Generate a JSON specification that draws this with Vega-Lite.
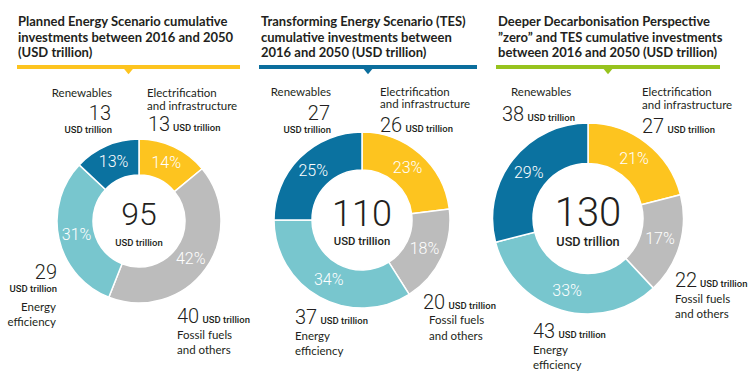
{
  "$schema": "https://vega.github.io/schema/vega-lite/v6.json",
  "padding": {"left": 0, "top": 16, "right": 0, "bottom": 0},
  "background": "white",
  "config": {"view": {"stroke": null}, "concat": {"spacing": 0}},
  "data": {"values": [
    {"scenario": "PES", "category": "Elec", "k": 1, "pct": 0.14, "usd": 13, "name": "Electrification\nand infrastructure"},
    {"scenario": "PES", "category": "Fossil", "k": 2, "pct": 0.42, "usd": 40, "name": "Fossil fuels\nand others"},
    {"scenario": "PES", "category": "Eff", "k": 3, "pct": 0.31, "usd": 29, "name": "Energy\nefficiency"},
    {"scenario": "PES", "category": "Ren", "k": 4, "pct": 0.13, "usd": 13, "name": "Renewables"},
    {"scenario": "TES", "category": "Elec", "k": 1, "pct": 0.23, "usd": 26, "name": "Electrification\nand infrastructure"},
    {"scenario": "TES", "category": "Fossil", "k": 2, "pct": 0.18, "usd": 20, "name": "Fossil fuels\nand others"},
    {"scenario": "TES", "category": "Eff", "k": 3, "pct": 0.34, "usd": 37, "name": "Energy\nefficiency"},
    {"scenario": "TES", "category": "Ren", "k": 4, "pct": 0.25, "usd": 27, "name": "Renewables"},
    {"scenario": "DDP", "category": "Elec", "k": 1, "pct": 0.21, "usd": 27, "name": "Electrification\nand infrastructure"},
    {"scenario": "DDP", "category": "Fossil", "k": 2, "pct": 0.17, "usd": 22, "name": "Fossil fuels\nand others"},
    {"scenario": "DDP", "category": "Eff", "k": 3, "pct": 0.33, "usd": 43, "name": "Energy\nefficiency"},
    {"scenario": "DDP", "category": "Ren", "k": 4, "pct": 0.29, "usd": 38, "name": "Renewables"}
  ]},
  "vconcat": [
    {
      "hconcat": [
        {"width": 17, "height": 4, "data": {"values": []}, "mark": "point"},
        {
          "width": 223, "height": 4,
          "view": {"fill": "#FDC41F", "stroke": null},
          "title": {"text": ["Planned Energy Scenario cumulative", "investments between 2016 and 2050", "(USD trillion)"], "anchor": "start", "frame": "group", "font": "Lato", "fontSize": 13, "fontWeight": "bold", "lineHeight": 15.5, "color": "#231f20", "offset": 5, "dx": 1},
          "transform": [{"filter": "datum.scenario === 'PES' && datum.k === 1"}],
          "mark": {"type": "point", "shape": "M-1,0L1,0L0,1.2Z", "size": 144, "filled": true, "color": "#FDC41F", "opacity": 1, "strokeWidth": 0}
        },
        {"width": 19, "height": 4, "data": {"values": []}, "mark": "point"},
        {
          "width": 218, "height": 4,
          "view": {"fill": "#0B6E9D", "stroke": null},
          "title": {"text": ["Transforming Energy Scenario (TES)", "cumulative investments between", "2016 and 2050 (USD trillion)"], "anchor": "start", "frame": "group", "font": "Lato", "fontSize": 13, "fontWeight": "bold", "lineHeight": 15.5, "color": "#231f20", "offset": 5, "dx": 2},
          "transform": [{"filter": "datum.scenario === 'TES' && datum.k === 1"}],
          "mark": {"type": "point", "shape": "M-1,0L1,0L0,1.2Z", "size": 144, "filled": true, "color": "#0B6E9D", "opacity": 1, "strokeWidth": 0}
        },
        {"width": 19, "height": 4, "data": {"values": []}, "mark": "point"},
        {
          "width": 224, "height": 4,
          "view": {"fill": "#97C31E", "stroke": null},
          "title": {"text": ["Deeper Decarbonisation Perspective", "”zero” and TES cumulative investments", "between 2016 and 2050 (USD trillion)"], "anchor": "start", "frame": "group", "font": "Lato", "fontSize": 13, "fontWeight": "bold", "lineHeight": 15.5, "color": "#231f20", "offset": 5, "dx": 2},
          "transform": [{"filter": "datum.scenario === 'DDP' && datum.k === 1"}],
          "mark": {"type": "point", "shape": "M-1,0L1,0L0,1.2Z", "size": 144, "filled": true, "color": "#97C31E", "opacity": 1, "strokeWidth": 0}
        }
      ],
      "spacing": 0,
      "bounds": "flush"
    },
    {
      "hconcat": [
        {
          "width": 278, "height": 310,
          "transform": [{"filter": "datum.scenario === 'PES'"}],
          "layer": [
            {
              "encoding": {
                "theta": {"field": "pct", "type": "quantitative", "stack": true},
                "order": {"field": "k", "type": "quantitative"},
                "detail": {"field": "category", "type": "nominal"}
              },
              "layer": [
                {"mark": {"type": "arc", "outerRadius": 82, "innerRadius": 46, "stroke": "white", "strokeWidth": 1.5},
                 "encoding": {"color": {"field": "category", "type": "nominal", "legend": null, "scale": {"domain": ["Elec", "Fossil", "Eff", "Ren"], "range": ["#FDC41F", "#BCBCBC", "#78C6CE", "#0B72A0"]}}}},
                {"mark": {"type": "text", "radius": 64, "font": "Roboto", "fontWeight": 300, "fontSize": 16, "fill": "white", "align": "center", "baseline": "middle"},
                 "encoding": {"text": {"field": "pct", "type": "quantitative", "format": ".0%"}}},
                {"mark": {"type": "text", "radius": 95, "dx": 10.7, "dy": -36.8, "align": "right", "baseline": "alphabetic", "font": "Lato", "fontSize": 11.5, "fill": "#231f20", "lineBreak": "\n"},
                 "encoding": {"text": {"condition": {"test": "datum.category === 'Ren'", "field": "name", "type": "nominal"}, "value": ""}}},
                {"mark": {"type": "text", "radius": 95, "dx": 9.7, "dy": -13.8, "align": "right", "baseline": "alphabetic", "font": "Roboto", "fontWeight": 300, "fontSize": 20, "fill": "#231f20"},
                 "encoding": {"text": {"condition": {"test": "datum.category === 'Ren'", "field": "usd", "type": "quantitative"}, "value": ""}}},
                {"mark": {"type": "text", "radius": 95, "dx": 10.7, "dy": -0.8, "align": "right", "baseline": "alphabetic", "font": "Roboto", "fontWeight": 500, "fontSize": 9.5, "fill": "#231f20"},
                 "encoding": {"text": {"condition": {"test": "datum.category === 'Ren'", "value": "USD trillion"}, "value": ""}}},
                {"mark": {"type": "text", "radius": 95, "dx": -32.45, "dy": -38.04, "align": "left", "baseline": "alphabetic", "font": "Lato", "fontSize": 11.5, "lineHeight": 12.5, "fill": "#231f20", "lineBreak": "\n"},
                 "encoding": {"text": {"condition": {"test": "datum.category === 'Elec'", "field": "name", "type": "nominal"}, "value": ""}}},
                {"mark": {"type": "text", "radius": 95, "dx": -31.45, "dy": -4.04, "align": "left", "baseline": "alphabetic", "font": "Roboto", "fontWeight": 300, "fontSize": 20, "fill": "#231f20"},
                 "encoding": {"text": {"condition": {"test": "datum.category === 'Elec'", "field": "usd", "type": "quantitative"}, "value": ""}}},
                {"mark": {"type": "text", "radius": 95, "dx": -6.45, "dy": -4.04, "align": "left", "baseline": "alphabetic", "font": "Roboto", "fontWeight": 500, "fontSize": 9.5, "fill": "#231f20"},
                 "encoding": {"text": {"condition": {"test": "datum.category === 'Elec'", "value": "USD trillion"}, "value": ""}}},
                {"mark": {"type": "text", "radius": 95, "dx": -38.86, "dy": 46.16, "align": "left", "baseline": "alphabetic", "font": "Roboto", "fontWeight": 300, "fontSize": 20, "fill": "#231f20"},
                 "encoding": {"text": {"condition": {"test": "datum.category === 'Fossil'", "field": "usd", "type": "quantitative"}, "value": ""}}},
                {"mark": {"type": "text", "radius": 95, "dx": -13.36, "dy": 46.16, "align": "left", "baseline": "alphabetic", "font": "Roboto", "fontWeight": 500, "fontSize": 9.5, "fill": "#231f20"},
                 "encoding": {"text": {"condition": {"test": "datum.category === 'Fossil'", "value": "USD trillion"}, "value": ""}}},
                {"mark": {"type": "text", "radius": 95, "dx": -38.86, "dy": 62.16, "align": "left", "baseline": "alphabetic", "font": "Lato", "fontSize": 11.5, "lineHeight": 15.5, "fill": "#231f20", "lineBreak": "\n"},
                 "encoding": {"text": {"condition": {"test": "datum.category === 'Fossil'", "field": "name", "type": "nominal"}, "value": ""}}},
                {"mark": {"type": "text", "radius": 95, "dx": 10.71, "dy": 37.28, "align": "right", "baseline": "alphabetic", "font": "Roboto", "fontWeight": 300, "fontSize": 20, "fill": "#231f20"},
                 "encoding": {"text": {"condition": {"test": "datum.category === 'Eff'", "field": "usd", "type": "quantitative"}, "value": ""}}},
                {"mark": {"type": "text", "radius": 95, "dx": 10.71, "dy": 50.28, "align": "right", "baseline": "alphabetic", "font": "Roboto", "fontWeight": 500, "fontSize": 9.5, "fill": "#231f20"},
                 "encoding": {"text": {"condition": {"test": "datum.category === 'Eff'", "value": "USD trillion"}, "value": ""}}},
                {"mark": {"type": "text", "radius": 95, "dx": 9.71, "dy": 69.28, "align": "right", "baseline": "alphabetic", "font": "Lato", "fontSize": 11.5, "lineHeight": 15, "fill": "#231f20", "lineBreak": "\n"},
                 "encoding": {"text": {"condition": {"test": "datum.category === 'Eff'", "field": "name", "type": "nominal"}, "value": ""}}}
              ]
            },
            {"transform": [{"aggregate": [{"op": "sum", "field": "usd", "as": "total"}]}],
             "mark": {"type": "text", "dy": 4, "align": "center", "baseline": "alphabetic", "font": "Roboto", "fontWeight": 300, "fontSize": 32, "fill": "#231f20"},
             "encoding": {"text": {"field": "total", "type": "quantitative"}}},
            {"transform": [{"aggregate": [{"op": "sum", "field": "usd", "as": "total"}]}],
             "mark": {"type": "text", "dy": 24.5, "align": "center", "baseline": "alphabetic", "font": "Roboto", "fontWeight": 500, "fontSize": 9.5, "fill": "#231f20"},
             "encoding": {"text": {"value": "USD trillion"}}}
          ]
        },
        {
          "width": 168, "height": 308,
          "transform": [{"filter": "datum.scenario === 'TES'"}],
          "layer": [
            {
              "encoding": {
                "theta": {"field": "pct", "type": "quantitative", "stack": true},
                "order": {"field": "k", "type": "quantitative"},
                "detail": {"field": "category", "type": "nominal"}
              },
              "layer": [
                {"mark": {"type": "arc", "outerRadius": 88, "innerRadius": 50, "stroke": "white", "strokeWidth": 1.5},
                 "encoding": {"color": {"field": "category", "type": "nominal", "legend": null, "scale": {"domain": ["Elec", "Fossil", "Eff", "Ren"], "range": ["#FDC41F", "#BCBCBC", "#78C6CE", "#0B72A0"]}}}},
                {"mark": {"type": "text", "radius": 69, "font": "Roboto", "fontWeight": 300, "fontSize": 16, "fill": "white", "align": "center", "baseline": "middle"},
                 "encoding": {"text": {"field": "pct", "type": "quantitative", "format": ".0%"}}},
                {"mark": {"type": "text", "radius": 100, "dx": 39.71, "dy": -53.29, "align": "right", "baseline": "alphabetic", "font": "Lato", "fontSize": 11.5, "fill": "#231f20", "lineBreak": "\n"},
                 "encoding": {"text": {"condition": {"test": "datum.category === 'Ren'", "field": "name", "type": "nominal"}, "value": ""}}},
                {"mark": {"type": "text", "radius": 100, "dx": 38.71, "dy": -28.79, "align": "right", "baseline": "alphabetic", "font": "Roboto", "fontWeight": 300, "fontSize": 20, "fill": "#231f20"},
                 "encoding": {"text": {"condition": {"test": "datum.category === 'Ren'", "field": "usd", "type": "quantitative"}, "value": ""}}},
                {"mark": {"type": "text", "radius": 100, "dx": 39.71, "dy": -16.29, "align": "right", "baseline": "alphabetic", "font": "Roboto", "fontWeight": 500, "fontSize": 9.5, "fill": "#231f20"},
                 "encoding": {"text": {"condition": {"test": "datum.category === 'Ren'", "value": "USD trillion"}, "value": ""}}},
                {"mark": {"type": "text", "radius": 100, "dx": -48.13, "dy": -48.99, "align": "left", "baseline": "alphabetic", "font": "Lato", "fontSize": 11.5, "lineHeight": 12.5, "fill": "#231f20", "lineBreak": "\n"},
                 "encoding": {"text": {"condition": {"test": "datum.category === 'Elec'", "field": "name", "type": "nominal"}, "value": ""}}},
                {"mark": {"type": "text", "radius": 100, "dx": -48.13, "dy": -12.99, "align": "left", "baseline": "alphabetic", "font": "Roboto", "fontWeight": 300, "fontSize": 20, "fill": "#231f20"},
                 "encoding": {"text": {"condition": {"test": "datum.category === 'Elec'", "field": "usd", "type": "quantitative"}, "value": ""}}},
                {"mark": {"type": "text", "radius": 100, "dx": -22.63, "dy": -12.99, "align": "left", "baseline": "alphabetic", "font": "Roboto", "fontWeight": 500, "fontSize": 9.5, "fill": "#231f20"},
                 "encoding": {"text": {"condition": {"test": "datum.category === 'Elec'", "value": "USD trillion"}, "value": ""}}},
                {"mark": {"type": "text", "radius": 100, "dx": -29.48, "dy": 46.42, "align": "left", "baseline": "alphabetic", "font": "Roboto", "fontWeight": 300, "fontSize": 20, "fill": "#231f20"},
                 "encoding": {"text": {"condition": {"test": "datum.category === 'Fossil'", "field": "usd", "type": "quantitative"}, "value": ""}}},
                {"mark": {"type": "text", "radius": 100, "dx": -3.98, "dy": 46.42, "align": "left", "baseline": "alphabetic", "font": "Roboto", "fontWeight": 500, "fontSize": 9.5, "fill": "#231f20"},
                 "encoding": {"text": {"condition": {"test": "datum.category === 'Fossil'", "value": "USD trillion"}, "value": ""}}},
                {"mark": {"type": "text", "radius": 100, "dx": -23.48, "dy": 61.42, "align": "left", "baseline": "alphabetic", "font": "Lato", "fontSize": 11.5, "lineHeight": 16, "fill": "#231f20", "lineBreak": "\n"},
                 "encoding": {"text": {"condition": {"test": "datum.category === 'Fossil'", "field": "name", "type": "nominal"}, "value": ""}}},
                {"mark": {"type": "text", "radius": 100, "dx": -18.82, "dy": 16.37, "align": "left", "baseline": "alphabetic", "font": "Roboto", "fontWeight": 300, "fontSize": 20, "fill": "#231f20"},
                 "encoding": {"text": {"condition": {"test": "datum.category === 'Eff'", "field": "usd", "type": "quantitative"}, "value": ""}}},
                {"mark": {"type": "text", "radius": 100, "dx": 6.68, "dy": 16.37, "align": "left", "baseline": "alphabetic", "font": "Roboto", "fontWeight": 500, "fontSize": 9.5, "fill": "#231f20"},
                 "encoding": {"text": {"condition": {"test": "datum.category === 'Eff'", "value": "USD trillion"}, "value": ""}}},
                {"mark": {"type": "text", "radius": 100, "dx": -18.82, "dy": 32.37, "align": "left", "baseline": "alphabetic", "font": "Lato", "fontSize": 11.5, "lineHeight": 15, "fill": "#231f20", "lineBreak": "\n"},
                 "encoding": {"text": {"condition": {"test": "datum.category === 'Eff'", "field": "name", "type": "nominal"}, "value": ""}}}
              ]
            },
            {"transform": [{"aggregate": [{"op": "sum", "field": "usd", "as": "total"}]}],
             "mark": {"type": "text", "dy": 6, "align": "center", "baseline": "alphabetic", "font": "Roboto", "fontWeight": 300, "fontSize": 36, "fill": "#231f20"},
             "encoding": {"text": {"field": "total", "type": "quantitative"}}},
            {"transform": [{"aggregate": [{"op": "sum", "field": "usd", "as": "total"}]}],
             "mark": {"type": "text", "dy": 25, "align": "center", "baseline": "alphabetic", "font": "Roboto", "fontWeight": 500, "fontSize": 11.3, "fill": "#231f20"},
             "encoding": {"text": {"value": "USD trillion"}}}
          ]
        },
        {
          "width": 284, "height": 305,
          "transform": [{"filter": "datum.scenario === 'DDP'"}],
          "layer": [
            {
              "encoding": {
                "theta": {"field": "pct", "type": "quantitative", "stack": true},
                "order": {"field": "k", "type": "quantitative"},
                "detail": {"field": "category", "type": "nominal"}
              },
              "layer": [
                {"mark": {"type": "arc", "outerRadius": 95.5, "innerRadius": 55, "stroke": "white", "strokeWidth": 1.5},
                 "encoding": {"color": {"field": "category", "type": "nominal", "legend": null, "scale": {"domain": ["Elec", "Fossil", "Eff", "Ren"], "range": ["#FDC41F", "#BCBCBC", "#78C6CE", "#0B72A0"]}}}},
                {"mark": {"type": "text", "radius": 75, "font": "Roboto", "fontWeight": 300, "fontSize": 16, "fill": "white", "align": "center", "baseline": "middle"},
                 "encoding": {"text": {"field": "pct", "type": "quantitative", "format": ".0%"}}},
                {"mark": {"type": "text", "radius": 105, "dx": 5.97, "dy": -58.15, "align": "left", "baseline": "alphabetic", "font": "Lato", "fontSize": 11.5, "fill": "#231f20", "lineBreak": "\n"},
                 "encoding": {"text": {"condition": {"test": "datum.category === 'Ren'", "field": "name", "type": "nominal"}, "value": ""}}},
                {"mark": {"type": "text", "radius": 105, "dx": -3.03, "dy": -33.15, "align": "left", "baseline": "alphabetic", "font": "Roboto", "fontWeight": 300, "fontSize": 20, "fill": "#231f20"},
                 "encoding": {"text": {"condition": {"test": "datum.category === 'Ren'", "field": "usd", "type": "quantitative"}, "value": ""}}},
                {"mark": {"type": "text", "radius": 105, "dx": 22.47, "dy": -33.15, "align": "left", "baseline": "alphabetic", "font": "Roboto", "fontWeight": 500, "fontSize": 9.5, "fill": "#231f20"},
                 "encoding": {"text": {"condition": {"test": "datum.category === 'Ren'", "value": "USD trillion"}, "value": ""}}},
                {"mark": {"type": "text", "radius": 105, "dx": -10.35, "dy": -39.53, "align": "left", "baseline": "alphabetic", "font": "Lato", "fontSize": 11.5, "lineHeight": 12.5, "fill": "#231f20", "lineBreak": "\n"},
                 "encoding": {"text": {"condition": {"test": "datum.category === 'Elec'", "field": "name", "type": "nominal"}, "value": ""}}},
                {"mark": {"type": "text", "radius": 105, "dx": -10.35, "dy": -2.53, "align": "left", "baseline": "alphabetic", "font": "Roboto", "fontWeight": 300, "fontSize": 20, "fill": "#231f20"},
                 "encoding": {"text": {"condition": {"test": "datum.category === 'Elec'", "field": "usd", "type": "quantitative"}, "value": ""}}},
                {"mark": {"type": "text", "radius": 105, "dx": 15.15, "dy": -2.53, "align": "left", "baseline": "alphabetic", "font": "Roboto", "fontWeight": 500, "fontSize": 9.5, "fill": "#231f20"},
                 "encoding": {"text": {"condition": {"test": "datum.category === 'Elec'", "value": "USD trillion"}, "value": ""}}},
                {"mark": {"type": "text", "radius": 105, "dx": -13.83, "dy": 39.2, "align": "left", "baseline": "alphabetic", "font": "Roboto", "fontWeight": 300, "fontSize": 20, "fill": "#231f20"},
                 "encoding": {"text": {"condition": {"test": "datum.category === 'Fossil'", "field": "usd", "type": "quantitative"}, "value": ""}}},
                {"mark": {"type": "text", "radius": 105, "dx": 11.17, "dy": 39.2, "align": "left", "baseline": "alphabetic", "font": "Roboto", "fontWeight": 500, "fontSize": 9.5, "fill": "#231f20"},
                 "encoding": {"text": {"condition": {"test": "datum.category === 'Fossil'", "value": "USD trillion"}, "value": ""}}},
                {"mark": {"type": "text", "radius": 105, "dx": -13.83, "dy": 55.2, "align": "left", "baseline": "alphabetic", "font": "Lato", "fontSize": 11.5, "lineHeight": 15, "fill": "#231f20", "lineBreak": "\n"},
                 "encoding": {"text": {"condition": {"test": "datum.category === 'Fossil'", "field": "name", "type": "nominal"}, "value": ""}}},
                {"mark": {"type": "text", "radius": 105, "dx": -25.71, "dy": 18.67, "align": "left", "baseline": "alphabetic", "font": "Roboto", "fontWeight": 300, "fontSize": 20, "fill": "#231f20"},
                 "encoding": {"text": {"condition": {"test": "datum.category === 'Eff'", "field": "usd", "type": "quantitative"}, "value": ""}}},
                {"mark": {"type": "text", "radius": 105, "dx": -0.21, "dy": 18.67, "align": "left", "baseline": "alphabetic", "font": "Roboto", "fontWeight": 500, "fontSize": 9.5, "fill": "#231f20"},
                 "encoding": {"text": {"condition": {"test": "datum.category === 'Eff'", "value": "USD trillion"}, "value": ""}}},
                {"mark": {"type": "text", "radius": 105, "dx": -25.71, "dy": 34.67, "align": "left", "baseline": "alphabetic", "font": "Lato", "fontSize": 11.5, "lineHeight": 15, "fill": "#231f20", "lineBreak": "\n"},
                 "encoding": {"text": {"condition": {"test": "datum.category === 'Eff'", "field": "name", "type": "nominal"}, "value": ""}}}
              ]
            },
            {"transform": [{"aggregate": [{"op": "sum", "field": "usd", "as": "total"}]}],
             "mark": {"type": "text", "dy": 7, "align": "center", "baseline": "alphabetic", "font": "Roboto", "fontWeight": 300, "fontSize": 40, "fill": "#231f20"},
             "encoding": {"text": {"field": "total", "type": "quantitative"}}},
            {"transform": [{"aggregate": [{"op": "sum", "field": "usd", "as": "total"}]}],
             "mark": {"type": "text", "dy": 27.5, "align": "center", "baseline": "alphabetic", "font": "Roboto", "fontWeight": 500, "fontSize": 12.7, "fill": "#231f20"},
             "encoding": {"text": {"value": "USD trillion"}}}
          ]
        }
      ],
      "spacing": 0,
      "bounds": "flush"
    }
  ],
  "spacing": 1,
  "bounds": "flush"
}
